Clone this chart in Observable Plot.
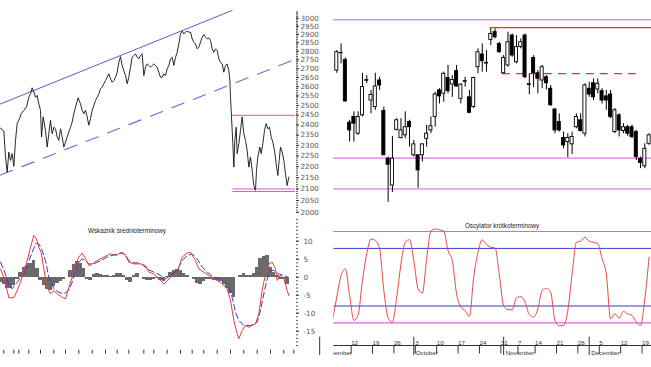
<!DOCTYPE html>
<html><head><meta charset="utf-8">
<script src="https://cdn.jsdelivr.net/npm/d3@7"></script>
<script src="https://cdn.jsdelivr.net/npm/@observablehq/plot@0.6"></script>
<style>
body{margin:0;background:#fff;}
#c{position:relative;width:651px;height:367px;overflow:hidden;background:#fff;font-family:"Liberation Sans",Arial,sans-serif;}
#c svg{position:absolute;left:0;top:0;}
.ttl{position:absolute;font-size:6.3px;color:#222;white-space:nowrap;transform:translateX(-50%);}
</style></head><body><div id="c"></div>
<script>
const W = 651, H = 367;

// ---------- Top-left: long-term price line (WIG20) ----------
const priceDay = [0,10,15,20,25,30,35,40,45,50,57,62,70,78,85,90,95,100,105,110,115,120,123,128,135,140,145,150,155,160,165,170,175,180,185,190,195,200,205,210,215,220,225,233,240,245,250,255,260,265,270,275,280,285,290,295,300,305,310,315,320,325,330,335,340,345,350,355,360,365,370,375,380,385,390,395,400,405,410,415,420,425,430,435,440,445,450,455,460,465,470,475,480,485,490,495,500,505,510,515,520,525,530,535,540,545,550,555,560,565,570,575,580,585,590,595,600,605,610,615,620,625,630,635,640,645,650,655,660,665,670,675,680,685,688,690,693,697,700,703,707,710,715,720,725,730,735,740,745,750,755,760,765,768,772,778,782,787,792,797,802,807,812,817,822,827,832,836,840,845,850,855,860,865];
const priceVal = [2384,2370,2245,2175,2268,2229,2261,2202,2324,2407,2432,2457,2475,2492,2543,2562,2594,2571,2543,2553,2508,2475,2341,2441,2373,2292,2357,2424,2357,2389,2381,2341,2324,2381,2341,2292,2316,2341,2365,2389,2415,2457,2492,2540,2508,2475,2457,2475,2441,2399,2432,2475,2501,2526,2543,2562,2589,2598,2616,2634,2652,2671,2643,2624,2634,2652,2680,2736,2769,2718,2689,2661,2616,2652,2708,2765,2775,2785,2765,2756,2775,2785,2661,2708,2727,2718,2708,2718,2727,2718,2708,2680,2652,2652,2671,2661,2699,2718,2756,2765,2718,2765,2794,2843,2903,2920,2903,2914,2920,2914,2914,2873,2853,2843,2814,2824,2853,2883,2899,2883,2873,2879,2863,2814,2794,2814,2804,2756,2736,2727,2680,2718,2727,2689,2634,2543,2441,2308,2198,2324,2389,2261,2308,2373,2441,2357,2324,2276,2198,2245,2183,2115,2094,2183,2245,2292,2261,2308,2373,2407,2381,2389,2341,2316,2276,2214,2160,2229,2292,2268,2229,2168,2115,2153];
const channelDay = [0, 695];
const channelUpper = [2508, 3049];
const dashedDay = [0, 875];
const channelLower = [2162, 2746];
const leftLevels = [2449, 2100, 2089];
const leftLevelStart = [695, 697, 697];
const priceTicks = d3.range(2000, 3001, 50);
const priceMinor = d3.range(2000, 3041, 10);

// ---------- Bottom-left: MACD-type indicator ----------
const macdDay = [0,10,20,25,40,50,60,70,80,90,100,108,115,122,130,140,150,160,170,185,195,205,215,225,235,245,255,265,275,290,310,330,345,355,365,375,385,400,420,435,445,460,475,490,505,520,530,545,560,570,585,595,610,625,640,660,680,690,700,710,715,725,735,745,755,765,775,785,795,805,815,825,830,840,850,860,865];
const macdVal = [2.3,0,-3.7,-5.7,-5.7,-3.7,-1.4,1.9,4.6,8.3,11.6,10.6,8.3,6.9,2.3,-2.8,-4.6,-3.7,-4.6,-5.6,-6.0,-2.8,0,3.2,5.6,6.7,5.1,3.2,3.7,4.6,5.6,6.5,6.0,6.5,6.9,6.0,4.2,3.7,3.7,3.2,1.4,0.9,-0.5,-1.9,-0.5,0.9,1.4,5.6,6.7,6.9,4.6,2.3,1.4,0.5,-0.5,-1.4,-3.2,-6.5,-12.0,-15.7,-17.1,-14.8,-13.4,-13.9,-13.4,-13.0,-10.2,-3.7,0.9,3.7,4.2,2.3,-0.9,0.5,-0.5,-3.7,-5.1];
const signalDay = [0,15,25,35,50,70,85,95,105,115,125,135,145,160,175,190,205,215,225,235,245,255,265,280,300,320,340,360,375,385,400,420,440,460,480,495,510,530,545,560,575,590,605,620,640,660,680,695,705,715,730,750,770,780,790,800,810,820,835,850,862];
const signalVal = [4.2,0.9,-2.3,-3.2,-1.4,0.9,4.6,6.9,9.3,9.3,7.4,4.6,0,-3.2,-4.2,-4.6,-3.7,-1.4,1.9,4.2,5.1,4.6,3.7,3.7,4.6,5.6,6.2,6.7,6.3,4.6,4.0,3.9,2.3,1.4,0.5,-0.5,0.5,1.9,4.6,6.0,6.5,5.1,2.8,1.4,0,-0.5,-1.9,-5.6,-9.7,-12.0,-13.4,-13.4,-12.5,-9.3,-4.6,-0.5,1.9,1.9,0.9,0.5,0];
const histDay = d3.range(0, 861, 10);
const histVal = [-1.4,-1.9,-3.0,-3.2,-2.3,-0.5,1.4,2.6,3.2,3.7,4.6,2.3,-0.9,-2.3,-3.5,-3.7,-2.6,-1.7,-1.1,-0.7,0,2.0,3.5,4.4,3.9,2.3,-0.5,-0.9,0.7,0.9,0.7,0.5,0.5,0.2,0.4,0.9,1.1,0.4,-0.9,-1.4,0.5,0.9,0,-0.5,-0.9,-0.9,-0.6,-0.3,-0.9,-1.2,0.2,1.4,1.9,2.2,1.9,1.1,0.4,0,-0.5,-1.7,-2.0,-1.1,-0.5,-0.5,-0.9,-0.9,-1.1,-1.9,-3.2,-4.6,-5.7,0,0.5,0.9,0.4,0.6,1.1,2.8,5.1,5.7,6.0,2.8,1.4,0.5,-0.7,-0.5,-1.9];
const macdTicks = [10, 5, 0, -5, -10, -15];
const macdMinor = d3.range(-19, 17, 1);
const leftAxisTicks = [10,40,55,85,120,160,195,235,275,315,350,385,430,460,500,540,575,610,650,690,730,770,810,850,880];

// ---------- Top-right: daily candles Sep-Dec 2011 ----------
const open  = [2689,2790,2750,2412,2441,2357,2449,2632,2526,2492,2634,2472,2237,2115,2376,2335,2349,2415,2253,2253,2253,2332,2373,2441,2580,2562,2648,2612,2686,2535,2630,2543,2492,2708,2781,2733,2867,2914,2843,2674,2718,2893,2736,2824,2893,2613,2761,2674,2634,2652,2589,2479,2415,2336,2316,2305,2389,2424,2357,2589,2619,2585,2576,2548,2558,2365,2449,2370,2389,2389,2365,2237,2202,2308];
const high  = [2804,2843,2761,2424,2467,2467,2674,2661,2580,2674,2652,2492,2245,2344,2432,2432,2467,2424,2324,2253,2308,2399,2441,2571,2589,2680,2718,2661,2718,2616,2652,2580,2652,2814,2843,2804,2934,2934,2853,2775,2914,2903,2893,2873,2903,2671,2775,2689,2718,2661,2607,2484,2457,2365,2357,2365,2457,2457,2616,2624,2643,2643,2589,2580,2580,2484,2457,2407,2399,2399,2373,2245,2308,2357];
const low   = [2674,2727,2518,2316,2316,2349,2441,2616,2457,2475,2580,2253,2042,2085,2370,2332,2332,2292,2245,2103,2222,2292,2357,2389,2508,2517,2562,2543,2598,2508,2598,2457,2484,2671,2680,2680,2834,2873,2789,2667,2708,2765,2727,2814,2643,2558,2594,2562,2589,2583,2496,2357,2365,2284,2242,2257,2381,2365,2341,2543,2526,2562,2508,2475,2432,2357,2341,2357,2344,2332,2229,2191,2191,2300];
const close = [2794,2788,2521,2373,2407,2441,2598,2636,2556,2601,2607,2253,2209,2237,2424,2373,2389,2389,2305,2183,2305,2357,2394,2558,2548,2671,2576,2637,2601,2611,2627,2462,2648,2794,2742,2729,2903,2883,2794,2761,2853,2775,2824,2853,2652,2609,2674,2643,2708,2619,2501,2373,2373,2300,2336,2341,2441,2370,2607,2558,2543,2616,2526,2526,2441,2475,2373,2389,2357,2341,2245,2217,2284,2349];
const rightLevels = [2990, 2240, 2100];
const resistance = 2942, resistanceFrom = 35.8;
const dashedLevel = 2672, dashedFrom = 38.7, dashedTo = 71;

// ---------- Bottom-right: short-term oscillator ----------
const oscIdx = d3.range(-1, 74);
const oscVal = [-12,-5.5,0.5,2.3,-5.1,-12,-10.4,-0.9,6.5,10.6,10.2,7.9,-3.7,-11.3,-12.5,-5.6,3.7,9.7,10.4,4.6,-3.2,-4.4,5.1,12.8,13.4,13.2,12.8,7.4,4.6,-4.6,-8.3,-9.3,-10.9,0,6.9,10.4,9.1,8.3,8.1,0.5,-7.9,-9,-9.1,-5.7,-5.4,-6.9,-10.4,-11.1,-8.8,-3.7,-3.1,-4.2,-12,-13.5,-13.4,-9.3,0.9,9.7,10,11.1,10,9.7,9.3,5.1,0.9,-11.6,-10.2,-11.3,-9.5,-10.2,-10.6,-12.5,-13.4,-6,5.6];
const oscOuter = [12.7, -12.7];
const oscInner = [8, -8];
const weekIdx = [3,8,13,18,23,28,33,38,42,46,51,56,61,66,71];
const weekLabel = ["12","19","26","3","10","17","24","31","7","14","21","28","5","12","19"];
const monthIdx = [-4,18,39,59];
const monthName = ["September","October","November","December"];

const font = "Liberation Sans, Arial, sans-serif";
const base = {width: W, height: H, style: {background: "transparent", fontFamily: font, fontSize: "7px", color: "#333"}};

const leftX = {domain: [0, 885], axis: null, label: null};
const rightX = {domain: [-0.7, 73.56], axis: null, label: null};

// Top-left
const pA = Plot.plot({...base,
  marginLeft: 0, marginRight: 356, marginTop: 17.7, marginBottom: 167,
  x: leftX,
  y: {type: "log", domain: [2050, 3000], axis: null, label: null},
  marks: [
    Plot.line(channelDay.map((d,k)=>({d, p: channelUpper[k]})), {x:"d", y:"p", stroke:"#5a5ad8", strokeWidth:1}),
    Plot.line(dashedDay.map((d,k)=>({d, p: channelLower[k]})), {x:"d", y:"p", stroke:"#6a6ae0", strokeWidth:1.1, strokeDasharray:"13,10"}),
    Plot.ruleY(leftLevels.map((p,k)=>({p, s: leftLevelStart[k]})), {y:"p", x1:"s", x2: 885, stroke:"#e050e0", strokeWidth:1}),
    Plot.line(priceDay.map((d,k)=>({d, p: priceVal[k]})), {x:"d", y:"p", stroke:"#111", strokeWidth:0.9}),
    Plot.axisY(priceMinor, {anchor:"right", label:null, tickSize:2, tickFormat: () => "", stroke:"#555"}),
    Plot.axisY(priceTicks, {anchor:"right", label:null, tickSize:3, tickPadding:2, tickFormat: d => String(d), fill:"#555", fontSize: 7.2, fontFamily: "DejaVu Sans"})
  ]
});

// Bottom-left
const pB = Plot.plot({...base,
  marginLeft: 0, marginRight: 356, marginTop: 240.7, marginBottom: 36.3,
  x: leftX,
  y: {domain: [-15, 10], axis: null, label: null},
  marks: [
    Plot.rectY(histDay.map((d,k)=>({d, v: histVal[k]})), {x1: r => r.d - 5.5, x2: r => r.d + 5.5, y1: 0, y2: "v", fill:"#6a6a6a", inset: 0, shapeRendering: "crispEdges"}),
    Plot.line(signalDay.map((d,k)=>({d, v: signalVal[k]})), {x:"d", y:"v", stroke:"#3b3bd0", strokeWidth:1, strokeDasharray:"6,3"}),
    Plot.line(macdDay.map((d,k)=>({d, v: macdVal[k]})), {x:"d", y:"v", stroke:"#e83a3a", strokeWidth:1}),
    Plot.axisY(macdMinor, {anchor:"right", label:null, tickSize:2, tickFormat: () => "", stroke:"#555"}),
    Plot.axisY(macdTicks, {anchor:"right", label:null, tickSize:3, tickPadding:5, tickFormat: d => String(d), fill:"#555", fontSize: 7.2, fontFamily: "DejaVu Sans"}),
    Plot.axisX(leftAxisTicks, {anchor:"bottom", label:null, tickSize:4, tickPadding:0, tickFormat: () => "", stroke:"#333", dy: 19})
  ]
});

// Top-right candles
const candles = open.map((o,i)=>({i, o, h: high[i], l: low[i], c: close[i]}));
const pC = Plot.plot({...base,
  marginLeft: 333.3, marginRight: 0, marginTop: 17.7, marginBottom: 167,
  x: rightX,
  y: {type: "log", domain: [2050, 3000], axis: null, label: null},
  marks: [
    Plot.ruleY(rightLevels, {stroke:"#e050e0", strokeWidth:1}),
    Plot.ruleY([resistance], {x1: resistanceFrom, x2: 73.56, stroke:"#ff2a2a", strokeWidth:1.2}),
    Plot.ruleY([dashedLevel], {x1: dashedFrom, x2: dashedTo, stroke:"#ff2a2a", strokeWidth:1.2, strokeDasharray:"8,6"}),
    Plot.ruleX(candles, {x:"i", y1:"l", y2:"h", stroke:"#000", strokeWidth:1}),
    Plot.rect(candles, {x1: d => d.i - 0.36, x2: d => d.i + 0.36, y1:"o", y2:"c", fill: d => d.c >= d.o ? "#fff" : "#000", stroke:"#000", strokeWidth:0.9})
  ]
});

// Bottom-right oscillator
const pD = Plot.plot({...base,
  marginLeft: 333.3, marginRight: 0, marginTop: 222.7, marginBottom: 36.3,
  x: rightX,
  y: {domain: [-15, 15], axis: null, label: null},
  marks: [
    Plot.ruleY(oscOuter, {stroke:"#e060e0", strokeWidth:1.2}),
    Plot.ruleY(oscInner, {stroke:"#3838c8", strokeWidth:1}),
    Plot.line(oscIdx.map((i,k)=>({i, v: oscVal[k]})), {x:"i", y:"v", stroke:"#e84848", strokeWidth:1, curve:"monotone-x", clip:true})
  ]
});

// Bottom-right date axis
const pE = Plot.plot({...base,
  marginLeft: 333.3, marginRight: 0, marginTop: 345, marginBottom: 12,
  x: rightX,
  y: {domain: [0, 1], axis: null, label: null},
  marks: [
    Plot.ruleY([1], {stroke:"#333", strokeWidth:1}),
    Plot.axisX(weekIdx, {anchor:"top", label:null, tickSize:8.3, tickPadding:0, tickFormat: d => weekLabel[weekIdx.indexOf(d)], textAnchor:"start", dx:1.5, dy:7.5, fill:"#333", stroke:"#333", fontSize:6.2}),
    Plot.ruleX(monthIdx, {stroke:"#333", insetTop:-8.3}),
    Plot.text(monthIdx.map((i,k)=>({i, m: monthName[k]})), {x:"i", text:"m", frameAnchor:"bottom", lineAnchor:"bottom", textAnchor:"start", dx:2, dy:-0.5, fill:"#333", fontSize:6.2, clip:true})
  ]
});

const c = document.getElementById("c");
[pA, pB, pC, pD, pE].forEach(p => c.appendChild(p));
function title(txt, x, y){ const d = document.createElement("div"); d.className = "ttl"; d.textContent = txt; d.style.left = x + "px"; d.style.top = y + "px"; c.appendChild(d); }
title("Wskaźnik średnioterminowy", 127, 227);
title("Oscylator krótkoterminowy", 502, 222);
</script></body></html>
